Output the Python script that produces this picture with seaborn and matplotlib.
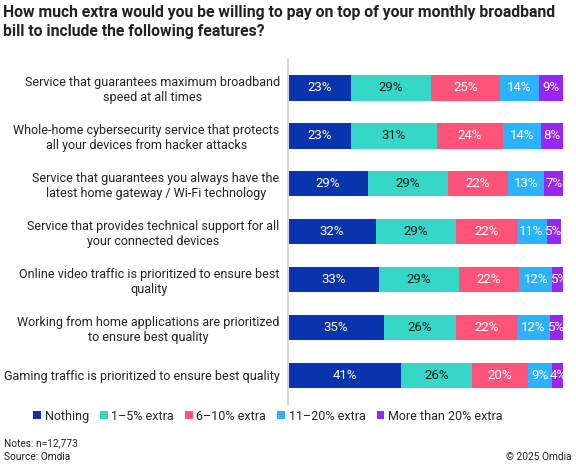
import numpy as np
import pandas as pd
import matplotlib.pyplot as plt
import seaborn as sns
from matplotlib.patches import Patch

sns.set_theme(style="white")
plt.rcParams['font.family'] = ['Roboto', 'DejaVu Sans']

# dados
features = [
    "Service that guarantees maximum broadband\nspeed at all times",
    "Whole-home cybersecurity service that protects\nall your devices from hacker attacks",
    "Service that guarantees you always have the\nlatest home gateway / Wi-Fi technology",
    "Service that provides technical support for all\nyour connected devices",
    "Online video traffic is prioritized to ensure best\nquality",
    "Working from home applications are prioritized\nto ensure best quality",
    "Gaming traffic is prioritized to ensure best quality",
]
levels = ["Nothing", "1\u20135% extra", "6\u201310% extra", "11\u201320% extra", "More than 20% extra"]
nothing = [23, 23, 29, 32, 33, 35, 41]
extra_1_5 = [29, 31, 29, 29, 29, 26, 26]
extra_6_10 = [25, 24, 22, 22, 22, 22, 20]
extra_11_20 = [14, 14, 13, 11, 12, 12, 9]
extra_20plus = [9, 8, 7, 5, 5, 5, 4]

colors = ["#0A33AE", "#35D7C7", "#FF5479", "#2BB3FF", "#9A26F2"]
text_colors = ["white", "#1a1a1a", "white", "white", "white"]

df = pd.DataFrame({"feature": features})
series = [nothing, extra_1_5, extra_6_10, extra_11_20, extra_20plus]
for lv, vals in zip(levels, series):
    df[lv] = vals
cum = df[levels].cumsum(axis=1)

fig = plt.figure(figsize=(5.76, 4.66), dpi=100)
ax = fig.add_axes([0.5, 0.133, 0.478, 0.74])

# barras empilhadas: desenha do acumulado maior para o menor
for i in range(len(levels) - 1, -1, -1):
    sns.barplot(x=cum[levels[i]], y=df["feature"], orient="h", color=colors[i],
                width=0.53, ax=ax, saturation=1, linewidth=0)

# rótulos de porcentagem
for i, lv in enumerate(levels):
    centers = cum[lv] - df[lv] / 2
    for j, (c, v) in enumerate(zip(centers, df[lv])):
        ax.text(c, j, f"{v}%", ha="center", va="center", fontsize=9.5, color=text_colors[i])

ax.set_xlim(0, 100)
ax.set_ylim(6.6, -0.6)
ax.set_xlabel("")
ax.set_ylabel("")
ax.set_xticks([])
ax.tick_params(axis="y", length=0, pad=6, labelsize=9)
for lab in ax.get_yticklabels():
    lab.set_horizontalalignment("right")
    lab.set_multialignment("center")
    lab.set_color("#222222")
for s in ["top", "right", "bottom"]:
    ax.spines[s].set_visible(False)
ax.spines["left"].set_color("#d9d9d9")
ax.spines["left"].set_linewidth(1.5)

fig.text(0.005, 0.99, "How much extra would you be willing to pay on top of your monthly broadband\nbill to include the following features?",
         ha="left", va="top", fontsize=11.3, fontweight="bold", color="#222222", linespacing=1.4)

handles = [Patch(facecolor=c, edgecolor="none") for c in colors]
fig.legend(handles, levels, loc="center", bbox_to_anchor=(0.465, 0.107), ncol=5, frameon=False,
           fontsize=9, handlelength=0.6, handleheight=0.6, handletextpad=0.3, columnspacing=0.9)

fig.text(0.007, 0.049, "Notes: n=12,773", ha="left", va="center", fontsize=7.3, color="#222222")
fig.text(0.007, 0.02, "Source: Omdia", ha="left", va="center", fontsize=7.3, color="#222222")
fig.text(0.993, 0.02, "\u00a9 2025 Omdia", ha="right", va="center", fontsize=7.3, color="#222222")

plt.savefig("out.png", dpi=100)
